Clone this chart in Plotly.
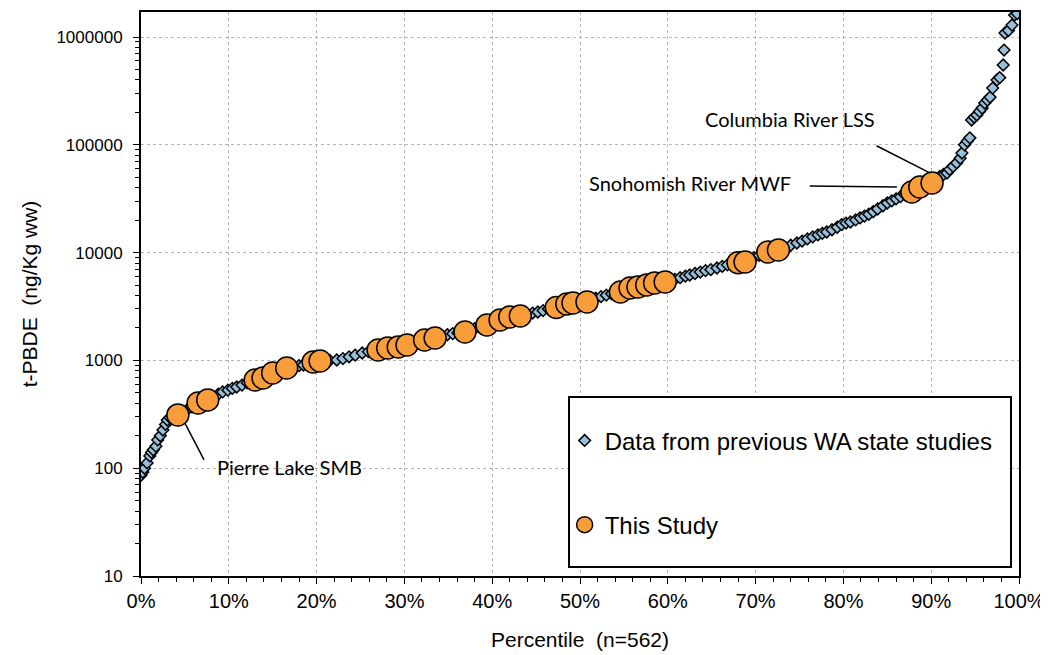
import plotly.graph_objects as go

# ---- data ----
prev_pct = [0.0, 0.2, 0.4, 0.7, 1.0, 1.2, 1.4, 1.7, 1.9, 2.2, 2.5, 2.8, 3.0, 3.3, 3.6, 4.0, 4.6, 5.2, 5.8, 6.4,
            7.0, 7.6, 8.2, 8.8, 9.3, 9.9, 10.4, 10.9, 11.5, 12.1, 12.6, 13.2, 13.8, 14.4, 15.0, 15.6, 16.2, 16.8,
            17.4, 18.0, 18.5, 19.1, 19.7, 20.3, 20.9, 21.5, 22.3, 23.0, 23.7, 24.4, 25.2, 25.9, 26.5, 27.1, 27.7,
            28.3, 28.9, 29.5, 30.1, 30.7, 31.3, 31.9, 32.5, 33.1, 33.7, 34.3, 34.9, 35.5, 36.1, 36.8, 37.4, 38.0,
            38.6, 39.2, 39.8, 40.4, 41.0, 41.6, 42.2, 42.8, 43.4, 44.0, 44.6, 45.2, 45.8, 46.4, 47.0, 47.6, 48.2,
            48.8, 49.4, 50.0, 50.6, 51.2, 51.8, 52.4, 53.0, 53.6, 54.2, 54.8, 55.4, 56.0, 56.6, 57.2, 57.8, 58.4,
            59.0, 59.6, 60.2, 60.8, 61.4, 62.0, 62.5, 63.1, 63.7, 64.3, 64.9, 65.6, 66.2, 66.8, 67.4, 68.0, 68.6,
            69.2, 69.8, 70.4, 71.0, 71.6, 72.2, 72.8, 73.4, 74.0, 74.7, 75.3, 75.9, 76.5, 77.1, 77.6, 78.1, 78.7,
            79.3, 79.8, 80.3, 80.8, 81.4, 81.9, 82.4, 82.9, 83.4, 83.9, 84.5, 85.0, 85.5, 86.0, 86.5, 87.0, 87.5,
            88.0, 88.5, 89.0, 89.5, 90.0, 90.5, 91.0, 91.4, 91.8, 92.1, 92.5, 92.9, 93.3, 93.5, 93.8, 94.1, 94.4,
            94.6, 94.9, 95.2, 95.5, 95.8, 96.1, 96.4, 96.7, 97.0, 97.5, 97.8, 98.2, 98.3, 98.4, 98.8, 99.2, 99.5,
            99.8]
prev_val = [86, 92, 100, 112, 130, 140, 148, 160, 183, 200, 226, 255, 280, 295, 305, 312, 325, 345, 370, 395,
            415, 430, 455, 485, 510, 530, 550, 567, 590, 620, 645, 665, 685, 720, 760, 795, 830, 855,
            875, 895, 906, 935, 965, 985, 995, 1000, 1008, 1040, 1080, 1120, 1172, 1205, 1230, 1250, 1280,
            1305, 1320, 1340, 1380, 1420, 1470, 1520, 1555, 1590, 1625, 1680, 1730, 1770, 1800, 1840, 1900, 1970,
            2040, 2110, 2200, 2290, 2380, 2470, 2540, 2570, 2600, 2680, 2750, 2813, 2900, 3000, 3090, 3150, 3280,
            3360, 3410, 3440, 3475, 3560, 3770, 3900, 4030, 4150, 4250, 4350, 4580, 4720, 4800, 4900, 5030, 5200,
            5270, 5330, 5450, 5650, 5850, 6050, 6196, 6400, 6600, 6800, 6950, 7194, 7450, 7700, 7950, 8050, 8180,
            8500, 9000, 9450, 9900, 10200, 10400, 10650, 11100, 11700, 12270, 12800, 13400, 14000, 14600, 15100,
            15530, 16300, 17200, 18200, 18800, 19230, 20100, 21000, 21800, 22700, 24000, 25400, 27200, 28840,
            30200, 31500, 33000, 34500, 35800, 37200, 39500, 41500, 43000, 44300, 47500, 51000, 53000, 54700,
            59000, 63000, 68000, 75000, 84000, 100000, 108000, 116000, 170000, 180000, 189000, 204000, 219000,
            244000, 260000, 277000, 336000, 400000, 420000, 550000, 757000, 1090000, 1150000, 1290000, 1600000,
            1650000]

study_pct = [4.2, 6.5, 7.6, 13.0, 13.9, 15.0, 16.6, 19.6, 20.4, 27.0, 28.1, 29.3, 30.3, 32.3, 33.5, 36.9,
             39.4, 40.9, 42.0, 43.2, 47.3, 48.5, 49.2, 50.8, 54.6, 55.7, 56.6, 57.6, 58.5, 59.7, 68.0, 68.8,
             71.4, 72.6, 87.8, 88.7, 90.1]
study_val = [312, 403, 430, 658, 687, 764, 851, 966, 987, 1248, 1303, 1331, 1390, 1546, 1614, 1834,
             2130, 2370, 2528, 2583, 3100, 3334, 3405, 3480, 4311, 4697, 4800, 5005, 5222, 5336, 8050, 8185,
             10130, 10570, 36480, 40600, 44300]

x_tick_vals = [0, 10, 20, 30, 40, 50, 60, 70, 80, 90, 100]
x_tick_text = ["0%", "10%", "20%", "30%", "40%", "50%", "60%", "70%", "80%", "90%", "100%"]
y_tick_vals = [10, 100, 1000, 10000, 100000, 1000000]
y_tick_text = ["10", "100", "1000", "10000", "100000", "1000000"]

series_names = ["Data from previous WA state studies", "This Study"]
x_title = "Percentile  (n=562)"
y_title = "t-PBDE  (ng/Kg ww)"

# labelled samples: (text, text pct, text log10, line head pct, head log10, line tail pct, tail log10)
callouts = [
    ("Pierre Lake SMB", 16.9, 2.011, 5.0, 2.419, 7.3, 2.058),
    ("Columbia River LSS", 73.9, 5.239, 89.9, 4.738, 83.6, 4.998),
    ("Snohomish River MWF", 62.5, 4.646, 86.1, 4.609, 76.0, 4.618),
]

FONT = "Liberation Sans, Arial, sans-serif"

fig = go.Figure()
fig.add_trace(go.Scatter(
    x=prev_pct, y=prev_val, mode="markers", name=series_names[0], legendgroup="a",
    marker=dict(symbol="diamond", size=9, color="#97BFD9", line=dict(color="black", width=1.5)),
))
fig.add_trace(go.Scatter(
    x=study_pct, y=study_val, mode="markers", name=series_names[1], legendgroup="b",
    marker=dict(symbol="circle", size=22, color="#F99D3A", line=dict(color="black", width=1.5)),
))

minor_y = [m * 10 ** k for k in range(1, 7) for m in range(2, 10)]

fig.update_xaxes(
    range=[0, 100], tickvals=x_tick_vals, ticktext=x_tick_text, automargin=False,
    showline=True, linecolor="black", linewidth=2, mirror=True,
    ticks="outside", ticklen=6, tickcolor="black", tickwidth=1,
    minor=dict(dtick=2, ticks="outside", ticklen=4, tickcolor="black", showgrid=False),
    showgrid=True, gridcolor="#B5B5B5", griddash="dot", gridwidth=1,
    zeroline=False, tickfont=dict(family=FONT, size=20, color="black"),
    title=dict(text=x_title, font=dict(family=FONT, size=21, color="black"), standoff=21),
)
fig.update_yaxes(
    type="log", range=[1, 6.232], tickvals=y_tick_vals, ticktext=y_tick_text, automargin=False,
    showline=True, linecolor="black", linewidth=2, mirror=True,
    ticks="outside", ticklen=6, tickcolor="black", tickwidth=1, ticklabelstandoff=7,
    minor=dict(tickvals=minor_y, ticks="outside", ticklen=4, tickcolor="black", showgrid=False),
    showgrid=True, gridcolor="#B5B5B5", griddash="dot", gridwidth=1,
    zeroline=False, tickfont=dict(family=FONT, size=17, color="black"),
    title=dict(text=y_title, font=dict(family=FONT, size=21, color="black"), standoff=13),
)

# legend frame
fig.add_shape(type="rect", xref="paper", yref="paper", x0=0.4875, x1=0.9909, y0=0.016, y1=0.3174,
              fillcolor="white", line=dict(color="black", width=2), layer="above")

for text, tx, ty, hx, hy, sx, sy in callouts:
    fig.add_annotation(x=tx, y=ty, xref="x", yref="y", text=text, showarrow=False,
                       font=dict(family="Lato, Open Sans, sans-serif", size=20, color="black"))
    fig.add_annotation(x=hx, y=hy, xref="x", yref="y", ax=sx, ay=sy, axref="x", ayref="y",
                       text=" ", font=dict(size=1), showarrow=True, arrowhead=0, arrowwidth=1.5,
                       arrowcolor="black", standoff=0, startstandoff=0)

# the page adds an 8px body margin, so the figure is 8px smaller and margins shifted accordingly
fig.update_layout(
    width=1040, height=647,
    margin=dict(l=133, r=29, t=4, b=79),
    paper_bgcolor="white", plot_bgcolor="white",
    showlegend=True,
    legend=dict(x=0.4825, y=0.2795, xanchor="left", yanchor="top", bgcolor="rgba(0,0,0,0)",
                borderwidth=0, traceorder="grouped", tracegroupgap=50, itemsizing="trace",
                font=dict(family=FONT, size=24, color="black")),
)

fig.write_html("out.html")
